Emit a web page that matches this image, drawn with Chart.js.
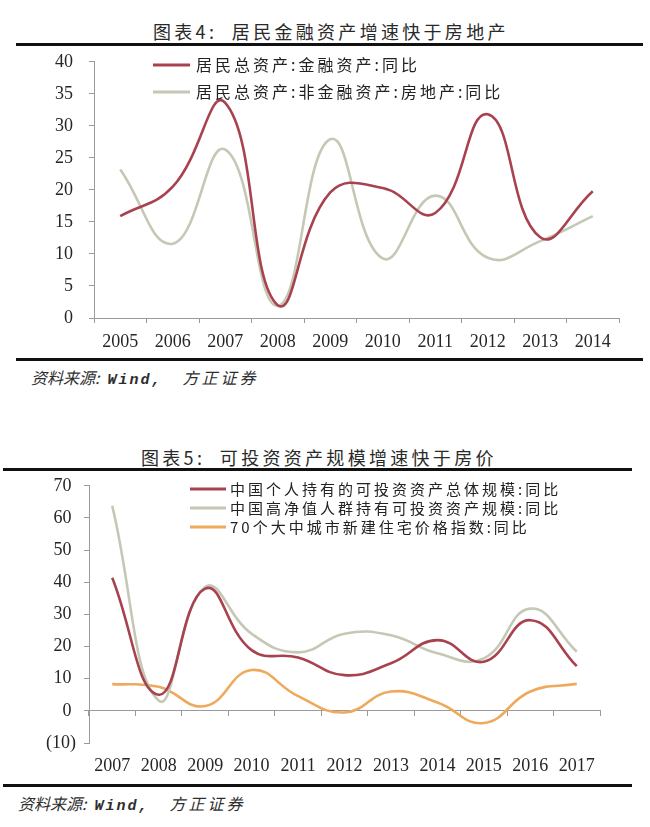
<!DOCTYPE html>
<html>
<head>
<meta charset="utf-8">
<script src="https://cdn.jsdelivr.net/npm/chart.js@4.4.0/dist/chart.umd.min.js"></script>
<style>
  body { margin: 0; background: #fff; width: 650px; height: 827px; position: relative; overflow: hidden; }
  .title { position: absolute; font-family: "Noto Sans CJK SC", sans-serif; font-size: 18px; color: #2a2a2a; letter-spacing: 3.3px; white-space: pre; line-height: 20px; }
  .rule { position: absolute; height: 3px; background: #111; }
  .src { position: absolute; font-style: italic; color: #2e2e2e; white-space: pre; line-height: 18px; font-family: "Noto Sans CJK SC", sans-serif; font-size: 16px; }
  .src .a { letter-spacing: 0px; }
  .src .mono { font-family: "Liberation Mono", monospace; font-weight: bold; font-size: 15px; letter-spacing: 2px; margin-left: 8px; }
  .src .b { letter-spacing: 3px; margin-left: 20px; }
  .box { position: absolute; left: 0; width: 650px; }
</style>
</head>
<body>
<div class="title" style="left:153px; top:21px;">图表4:  居民金融资产增速快于房地产</div>
<div class="rule" style="left:16px; width:627px; top:43px;"></div>
<div class="box" style="top:35px; height:320px;"><canvas id="chart1"></canvas></div>
<div class="rule" style="left:16px; width:627px; top:358px;"></div>
<div class="src" style="left:31px; top:368px;"><span class="a">资料来源:</span><span class="mono">Wind,</span><span class="b">方正证券</span></div>

<div class="title" style="left:141px; top:447px;">图表5:  可投资资产规模增速快于房价</div>
<div class="rule" style="left:3px; width:629px; top:468px;"></div>
<div class="box" style="top:467px; height:313px;"><canvas id="chart2"></canvas></div>
<div class="rule" style="left:3px; width:629px; top:784px;"></div>
<div class="src" style="left:18px; top:794px;"><span class="a">资料来源:</span><span class="mono">Wind,</span><span class="b">方正证券</span></div>

<script>
// chart 1 data
const years1 = ["2005", "2006", "2007", "2008", "2009", "2010", "2011", "2012", "2013", "2014"];
const financial = [15.9, 20.5, 33.6, 2.0, 19.6, 20.3, 16.4, 31.8, 12.6, 19.8];
const realEstate = [23.2, 11.6, 26.3, 1.9, 27.9, 9.3, 19.1, 9.4, 12.0, 15.9];
const label1a = "居民总资产:金融资产:同比";
const label1b = "居民总资产:非金融资产:房地产:同比";

// chart 2 data
const years2 = ["2007", "2008", "2009", "2010", "2011", "2012", "2013", "2014", "2015", "2016", "2017"];
const personal = [41.4, 5.0, 38.0, 18.9, 16.6, 11.1, 14.8, 22.0, 15.3, 28.2, 13.9];
const highNet = [63.8, 3.2, 38.5, 24.0, 18.2, 24.0, 23.5, 17.9, 16.3, 31.8, 18.4];
const housePrice = [8.3, 7.5, 1.5, 12.7, 4.6, -0.5, 6.0, 2.6, -3.8, 6.0, 8.4];
const label2a = "中国个人持有的可投资资产总体规模:同比";
const label2b = "中国高净值人群持有可投资资产规模:同比";
const label2c = "70个大中城市新建住宅价格指数:同比";

const RED = "#a8424f";
const GREY = "#c5c8b5";
const ORANGE = "#eea95c";
const AXIS = "#9a9a9a";
const tickFont = { family: "Liberation Serif", size: 18 };

// legend drawn inside the plot, stacked rows
const sideLegend = {
    id: "sideLegend",
    afterDatasetsDraw(chart, args, opts) {
        const ctx = chart.ctx;
        ctx.save();
        ctx.font = opts.font;
        ctx.letterSpacing = opts.spacing;
        ctx.textBaseline = "middle";
        ctx.textAlign = "left";
        chart.data.datasets.forEach((ds, i) => {
            const y = opts.y + i * opts.rowH;
            ctx.strokeStyle = ds.borderColor;
            ctx.lineWidth = 3;
            ctx.beginPath();
            ctx.moveTo(opts.x, y);
            ctx.lineTo(opts.x + opts.lineW, y);
            ctx.stroke();
            ctx.fillStyle = "#222";
            ctx.fillText(ds.label, opts.x + opts.lineW + opts.gap, y);
        });
        ctx.restore();
    }
};

function lineSet(label, data, color) {
    return {
        label: label,
        data: data,
        borderColor: color,
        backgroundColor: color,
        borderWidth: 2.6,
        pointRadius: 0,
        tension: 0.45,
        fill: false
    };
}

new Chart(document.getElementById("chart1"), {
    type: "line",
    data: {
        labels: years1,
        datasets: [
            lineSet(label1a, financial, RED),
            lineSet(label1b, realEstate, GREY)
        ]
    },
    plugins: [sideLegend],
    options: {
        responsive: true,
        maintainAspectRatio: false,
        animation: false,
        layout: { padding: { top: 11, right: 31, left: 0, bottom: 0 } },
        plugins: {
            legend: { display: false },
            tooltip: { enabled: false },
            sideLegend: { x: 153, y: 30, rowH: 27, lineW: 37, gap: 6, font: "16px 'Noto Sans CJK SC'", spacing: "3px" }
        },
        scales: {
            x: {
                offset: true,
                grid: { offset: true, drawOnChartArea: false, tickLength: 5, color: AXIS },
                border: { color: AXIS },
                ticks: { font: tickFont, color: "#262626", padding: 8, maxRotation: 0 },
                afterFit: s => { s.height = 37; }
            },
            y: {
                min: 0,
                max: 40,
                ticks: { stepSize: 5, font: tickFont, color: "#262626", padding: 16 },
                grid: { drawOnChartArea: false, tickLength: 5, color: AXIS },
                border: { color: AXIS },
                afterFit: s => { s.width = 94; }
            }
        }
    }
});

new Chart(document.getElementById("chart2"), {
    type: "line",
    data: {
        labels: years2,
        datasets: [
            lineSet(label2a, personal, RED),
            lineSet(label2b, highNet, GREY),
            lineSet(label2c, housePrice, ORANGE)
        ]
    },
    plugins: [sideLegend],
    options: {
        responsive: true,
        maintainAspectRatio: false,
        animation: false,
        layout: { padding: { top: 14, right: 50, left: 0, bottom: 0 } },
        plugins: {
            legend: { display: false },
            tooltip: { enabled: false },
            sideLegend: { x: 190, y: 22, rowH: 19, lineW: 36, gap: 4, font: "15px 'Noto Sans CJK SC'", spacing: "3px" }
        },
        scales: {
            x: {
                position: { y: 0 },
                offset: true,
                grid: { offset: true, drawOnChartArea: false, tickLength: 5, color: AXIS },
                border: { color: AXIS },
                ticks: { display: false }
            },
            x2: {
                type: "category",
                position: "bottom",
                labels: years2,
                offset: true,
                grid: { display: false, drawTicks: false },
                border: { display: false },
                ticks: { font: tickFont, color: "#262626", padding: 12, maxRotation: 0 },
                afterFit: s => { s.height = 37; }
            },
            y: {
                min: -10,
                max: 70,
                ticks: {
                    stepSize: 10,
                    font: tickFont,
                    color: "#262626",
                    padding: 8,
                    callback: v => v < 0 ? "(" + Math.abs(v) + ")" : v + " "
                },
                grid: { drawOnChartArea: false, tickLength: 5, color: AXIS },
                border: { color: AXIS },
                afterFit: s => { s.width = 89; }
            }
        }
    }
});
</script>
</body>
</html>
